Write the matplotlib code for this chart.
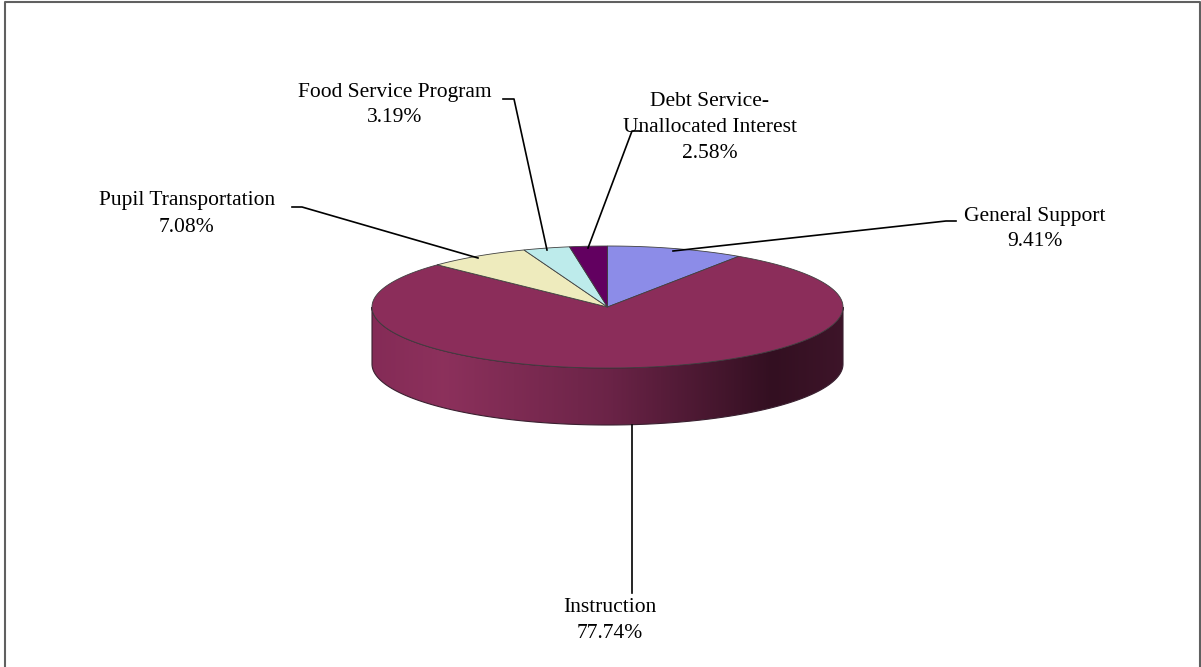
import numpy as np
import matplotlib
matplotlib.use("Agg")
import matplotlib.pyplot as plt
from matplotlib.patches import Polygon
from matplotlib.colors import LinearSegmentedColormap

# --- datos ---
categorias = ["General Support", "Instruction", "Pupil Transportation",
              "Food Service Program", "Debt Service-\nUnallocated Interest"]
porcentajes = [9.41, 77.74, 7.08, 3.19, 2.58]
colores = ["#8c8ce8", "#8b2d5a", "#eeebbd", "#bdebeb", "#620060"]

# geometria del pastel (pixeles)
cx, cy = 607.5, 307
rx, ry = 235.5, 61
prof = 57

fig = plt.figure(figsize=(12.01, 6.67), dpi=100)
ax = fig.add_axes([0, 0, 1, 1])
ax.set_xlim(0, 1201)
ax.set_ylim(667, 0)
ax.axis("off")


def punto(t, dy=0):
    t = np.radians(t)
    return cx + rx * np.sin(t), cy - ry * np.cos(t) + dy


# lado frontal (solo Instruction es visible al frente)
ts = np.linspace(90, 270, 200)
arriba = [punto(t) for t in ts]
abajo = [punto(t, prof) for t in ts[::-1]]
lado = Polygon(arriba + abajo, closed=True, facecolor="none",
               edgecolor="#3a2030", linewidth=0.8, zorder=2)
ax.add_patch(lado)
grad_cmap = LinearSegmentedColormap.from_list("lado", [
    (0.0, (0.52, 0.17, 0.34)),
    (0.15, (0.55, 0.19, 0.36)),
    (0.5, (0.42, 0.14, 0.28)),
    (0.85, (0.20, 0.06, 0.13)),
    (1.0, (0.24, 0.08, 0.16))])
grad = np.linspace(0, 1, 256).reshape(1, -1)
im = ax.imshow(grad, cmap=grad_cmap, aspect="auto",
               extent=(cx - rx, cx + rx, cy + ry + prof, cy - 5), zorder=1)
im.set_clip_path(lado)

# cara superior
inicio = 0.0
for val, col in zip(porcentajes, colores):
    a0 = inicio
    a1 = inicio + val / 100 * 360
    ts = np.linspace(a0, a1, max(int(a1 - a0) * 2, 4))
    pts = [(cx, cy)] + [punto(t) for t in ts]
    ax.add_patch(Polygon(pts, closed=True, facecolor=col,
                         edgecolor="#404040", linewidth=0.6, zorder=3))
    inicio = a1

# etiquetas con lineas guia
fuente = dict(family="Liberation Serif", fontsize=15.5, color="black",
              ha="center", va="center", linespacing=1.5, zorder=5)
linea = dict(color="black", linewidth=1.2, zorder=4)

# General Support
ax.text(1035, 229, f"{categorias[0]}\n{porcentajes[0]:.2f}%", **fuente)
ax.plot([956, 946, 673], [221, 221, 251], **linea)

# Instruction
ax.text(610, 620, f"{categorias[1]}\n{porcentajes[1]:.2f}%", **fuente)
ax.plot([632, 632], [425, 593], **linea)

# Pupil Transportation
ax.text(187, 214, f"{categorias[2]}\n{porcentajes[2]:.2f}%", **fuente)
ax.plot([292, 302, 478], [207, 207, 258], **linea)

# Food Service Program
ax.text(395, 105, f"{categorias[3]}\n{porcentajes[3]:.2f}%", **fuente)
ax.plot([503, 514, 547], [99, 99, 250], **linea)

# Debt Service
ax.text(710, 127, f"{categorias[4]}\n{porcentajes[4]:.2f}%", **fuente)
ax.plot([640, 632, 588], [131, 131, 248], **linea)

# marco (sin borde inferior)
ax.plot([5, 5, 1199.5, 1199.5], [667, 1.5, 1.5, 667],
        color="#606060", linewidth=1.5, zorder=6)

fig.savefig("out.png", dpi=100)
